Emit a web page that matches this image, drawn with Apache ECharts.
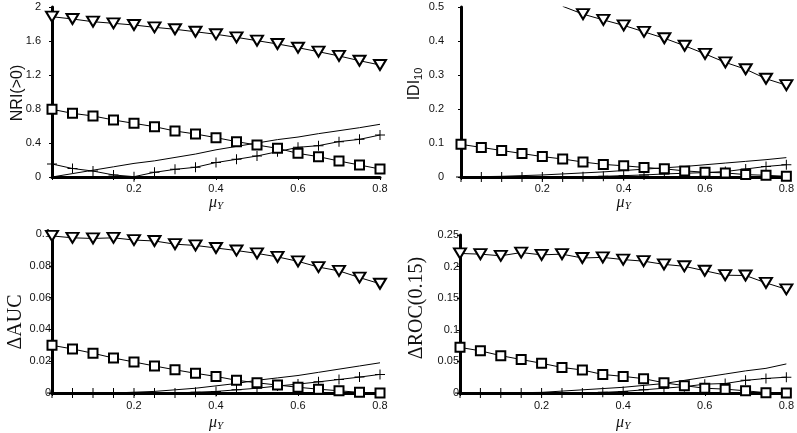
<!DOCTYPE html>
<html>
<head>
<meta charset="utf-8">
<script src="https://cdn.jsdelivr.net/npm/echarts@6/dist/echarts.min.js"></script>
<style>
html,body{margin:0;padding:0;background:#fff;}
#c{width:797px;height:433px;}
</style>
</head>
<body>
<div id="c"></div>
<script>
// x values (mu_Y)
const xs = [0,0.05,0.1,0.15,0.2,0.25,0.3,0.35,0.4,0.45,0.5,0.55,0.6,0.65,0.7,0.75,0.8];
const xTicks = [0.2,0.4,0.6,0.8];

// Panel 1: NRI(>0)
const nriTri  = [1.886,1.859,1.827,1.808,1.788,1.761,1.738,1.709,1.679,1.643,1.604,1.565,1.521,1.474,1.424,1.368,1.318];
const nriSq   = [0.796,0.749,0.718,0.671,0.631,0.592,0.541,0.506,0.463,0.416,0.376,0.337,0.278,0.239,0.188,0.141,0.094];
const nriPlus = [0.153,0.10,0.07,0.024,0.004,0.055,0.09,0.114,0.17,0.208,0.247,0.298,0.349,0.369,0.416,0.443,0.494];
const nriLine = [0,0.04,0.08,0.12,0.16,0.19,0.23,0.27,0.32,0.36,0.40,0.44,0.47,0.51,0.545,0.58,0.62];

// Panel 2: IDI_10
const idiTri  = [null,null,null,null,null,0.502,0.479,0.462,0.446,0.427,0.408,0.386,0.362,0.337,0.317,0.289,0.27];
const idiSq   = [0.096,0.087,0.078,0.069,0.06,0.053,0.044,0.037,0.033,0.028,0.024,0.018,0.014,0.012,0.007,0.005,0.002];
const idiPlus = [0,0,0,0,0,0,0.001,0.002,0.004,0.006,0.009,0.011,0.013,0.016,0.0235,0.031,0.036];
const idiLine = [0,0.001,0.002,0.004,0.006,0.009,0.012,0.015,0.019,0.023,0.027,0.031,0.036,0.041,0.046,0.051,0.057];

// Panel 3: Delta AUC
const aucTri  = [0.0988,0.0976,0.0972,0.0976,0.0962,0.0956,0.0936,0.0928,0.0912,0.0896,0.0878,0.0856,0.0828,0.0792,0.0768,0.0726,0.0687];
const aucSq   = [0.030,0.0277,0.025,0.022,0.0195,0.017,0.0146,0.0124,0.0104,0.008,0.0064,0.005,0.0036,0.0024,0.0014,0.0004,0];
const aucPlus = [0,0,0,0,0,0,0,0.0005,0.001,0.002,0.003,0.0044,0.0056,0.007,0.0085,0.010,0.0117];
const aucLine = [0,0,0,0,0.0005,0.001,0.002,0.003,0.0045,0.006,0.008,0.0095,0.011,0.013,0.015,0.017,0.019];

// Panel 4: Delta ROC(0.15)
const rocTri  = [0.2208,0.2197,0.2171,0.2222,0.2186,0.2197,0.2136,0.2146,0.2111,0.2086,0.2035,0.2005,0.1934,0.1864,0.1859,0.1742,0.1641];
const rocSq   = [0.0722,0.0667,0.0591,0.053,0.047,0.0404,0.0364,0.0293,0.0263,0.0227,0.0162,0.0116,0.0076,0.0061,0.0035,0.0005,0];
const rocPlus = [0,0,0,0,0,0,0,0.001,0.0025,0.005,0.0076,0.010,0.014,0.015,0.020,0.023,0.025];
const rocLine = [0,0,0,0.0005,0.001,0.003,0.005,0.007,0.009,0.012,0.015,0.02,0.025,0.03,0.035,0.039,0.046];

// y-axis settings per panel
const yMax = [2, 0.5, 0.1, 0.25];
const yInterval = [0.4, 0.1, 0.02, 0.05];

const panels = [
  {tri: nriTri, sq: nriSq, plus: nriPlus, line: nriLine},
  {tri: idiTri, sq: idiSq, plus: idiPlus, line: idiLine},
  {tri: aucTri, sq: aucSq, plus: aucPlus, line: aucLine},
  {tri: rocTri, sq: rocSq, plus: rocPlus, line: rocLine}
];

const grids = [
  {left: 52, top: 7, width: 328, height: 170},
  {left: 461, top: 7, width: 327, height: 170},
  {left: 52, top: 234, width: 328, height: 166},
  {left: 460, top: 235, width: 328, height: 165}
];
const yLabelMargin = [11, 17, 1, 1];
const xLabelMargin = [6, 6, 7, 7];
const xNameGap = [16, 16, 21, 21];

const sansFont = '"Liberation Sans", Arial, sans-serif';
const serifFont = '"Liberation Serif", "Times New Roman", serif';

const plusPath = 'path://M4.5,0 H5.5 V4.5 H10 V5.5 H5.5 V10 H4.5 V5.5 H0 V4.5 H4.5 Z';

function pairs(arr) { return xs.map((x, i) => [x, arr[i]]); }

const xAxes = [], yAxes = [], series = [];
grids.forEach((g, i) => {
  xAxes.push({
    type: 'value', gridIndex: i, min: 0, max: 0.8, interval: 0.2,
    axisLine: {lineStyle: {color: '#000', width: 3}},
    axisTick: {show: true, length: 3, lineStyle: {color: '#000', width: 1}},
    splitLine: {show: false},
    axisLabel: {
      fontFamily: sansFont, fontSize: 11, color: '#111', margin: xLabelMargin[i],
      formatter: v => (xTicks.indexOf(Math.round(v * 10) / 10) >= 0 ? String(Math.round(v * 10) / 10) : '')
    },
    name: '{mu|μ}{y|Y}', nameLocation: 'middle', nameGap: xNameGap[i],
    nameTextStyle: {
      rich: {
        mu: {fontFamily: serifFont, fontStyle: 'italic', fontSize: 16, color: '#111'},
        y: {fontFamily: serifFont, fontStyle: 'italic', fontSize: 11, color: '#111', padding: [7, 0, 0, 0]}
      }
    }
  });
  yAxes.push({
    type: 'value', gridIndex: i, min: 0, max: yMax[i], interval: yInterval[i],
    axisLine: {show: true, lineStyle: {color: '#000', width: 3}},
    axisTick: {show: true, length: 3, lineStyle: {color: '#000', width: 1}},
    splitLine: {show: false},
    axisLabel: {fontFamily: sansFont, fontSize: 11, color: '#111', margin: yLabelMargin[i]}
  });
  const p = panels[i];
  const base = {type: 'line', xAxisIndex: i, yAxisIndex: i, showAllSymbol: true, animation: false,
    clip: true, lineStyle: {color: '#000', width: 1}, itemStyle: {color: '#000', borderWidth: 1}};
  series.push(Object.assign({}, base, {data: pairs(p.line), symbol: 'none'}));
  series.push(Object.assign({}, base, {data: pairs(p.plus), symbol: plusPath, symbolSize: 10}));
  series.push(Object.assign({}, base, {data: pairs(p.sq), symbol: 'emptyRect', symbolSize: 9}));
  series.push(Object.assign({}, base, {data: pairs(p.tri), symbol: 'emptyTriangle', symbolSize: [12, 10], symbolRotate: 180}));
});

const chart = echarts.init(document.getElementById('c'), null, {renderer: 'canvas'});
chart.setOption({
  animation: false,
  backgroundColor: '#fff',
  grid: grids,
  xAxis: xAxes,
  yAxis: yAxes,
  series: series,
  graphic: [
    {type: 'text', x: 17.5, y: 93, rotation: Math.PI / 2,
      style: {text: 'NRI(>0)', font: '16px ' + sansFont, fill: '#111', align: 'center', verticalAlign: 'middle'}},
    {type: 'text', x: 415, y: 84, rotation: Math.PI / 2,
      style: {text: '{a|IDI}{b|10}', align: 'center', verticalAlign: 'middle',
        rich: {a: {fontFamily: sansFont, fontSize: 16, fill: '#111'},
               b: {fontFamily: sansFont, fontSize: 11, fill: '#111', padding: [8, 0, 0, 0]}}}},
    {type: 'text', x: 16, y: 322, rotation: Math.PI / 2,
      style: {text: 'ΔAUC', font: '20px ' + serifFont, fill: '#111', align: 'center', verticalAlign: 'middle'}},
    {type: 'text', x: 417, y: 308, rotation: Math.PI / 2,
      style: {text: 'ΔROC(0.15)', font: '20px ' + serifFont, fill: '#111', align: 'center', verticalAlign: 'middle'}}
  ]
});
</script>
</body>
</html>
